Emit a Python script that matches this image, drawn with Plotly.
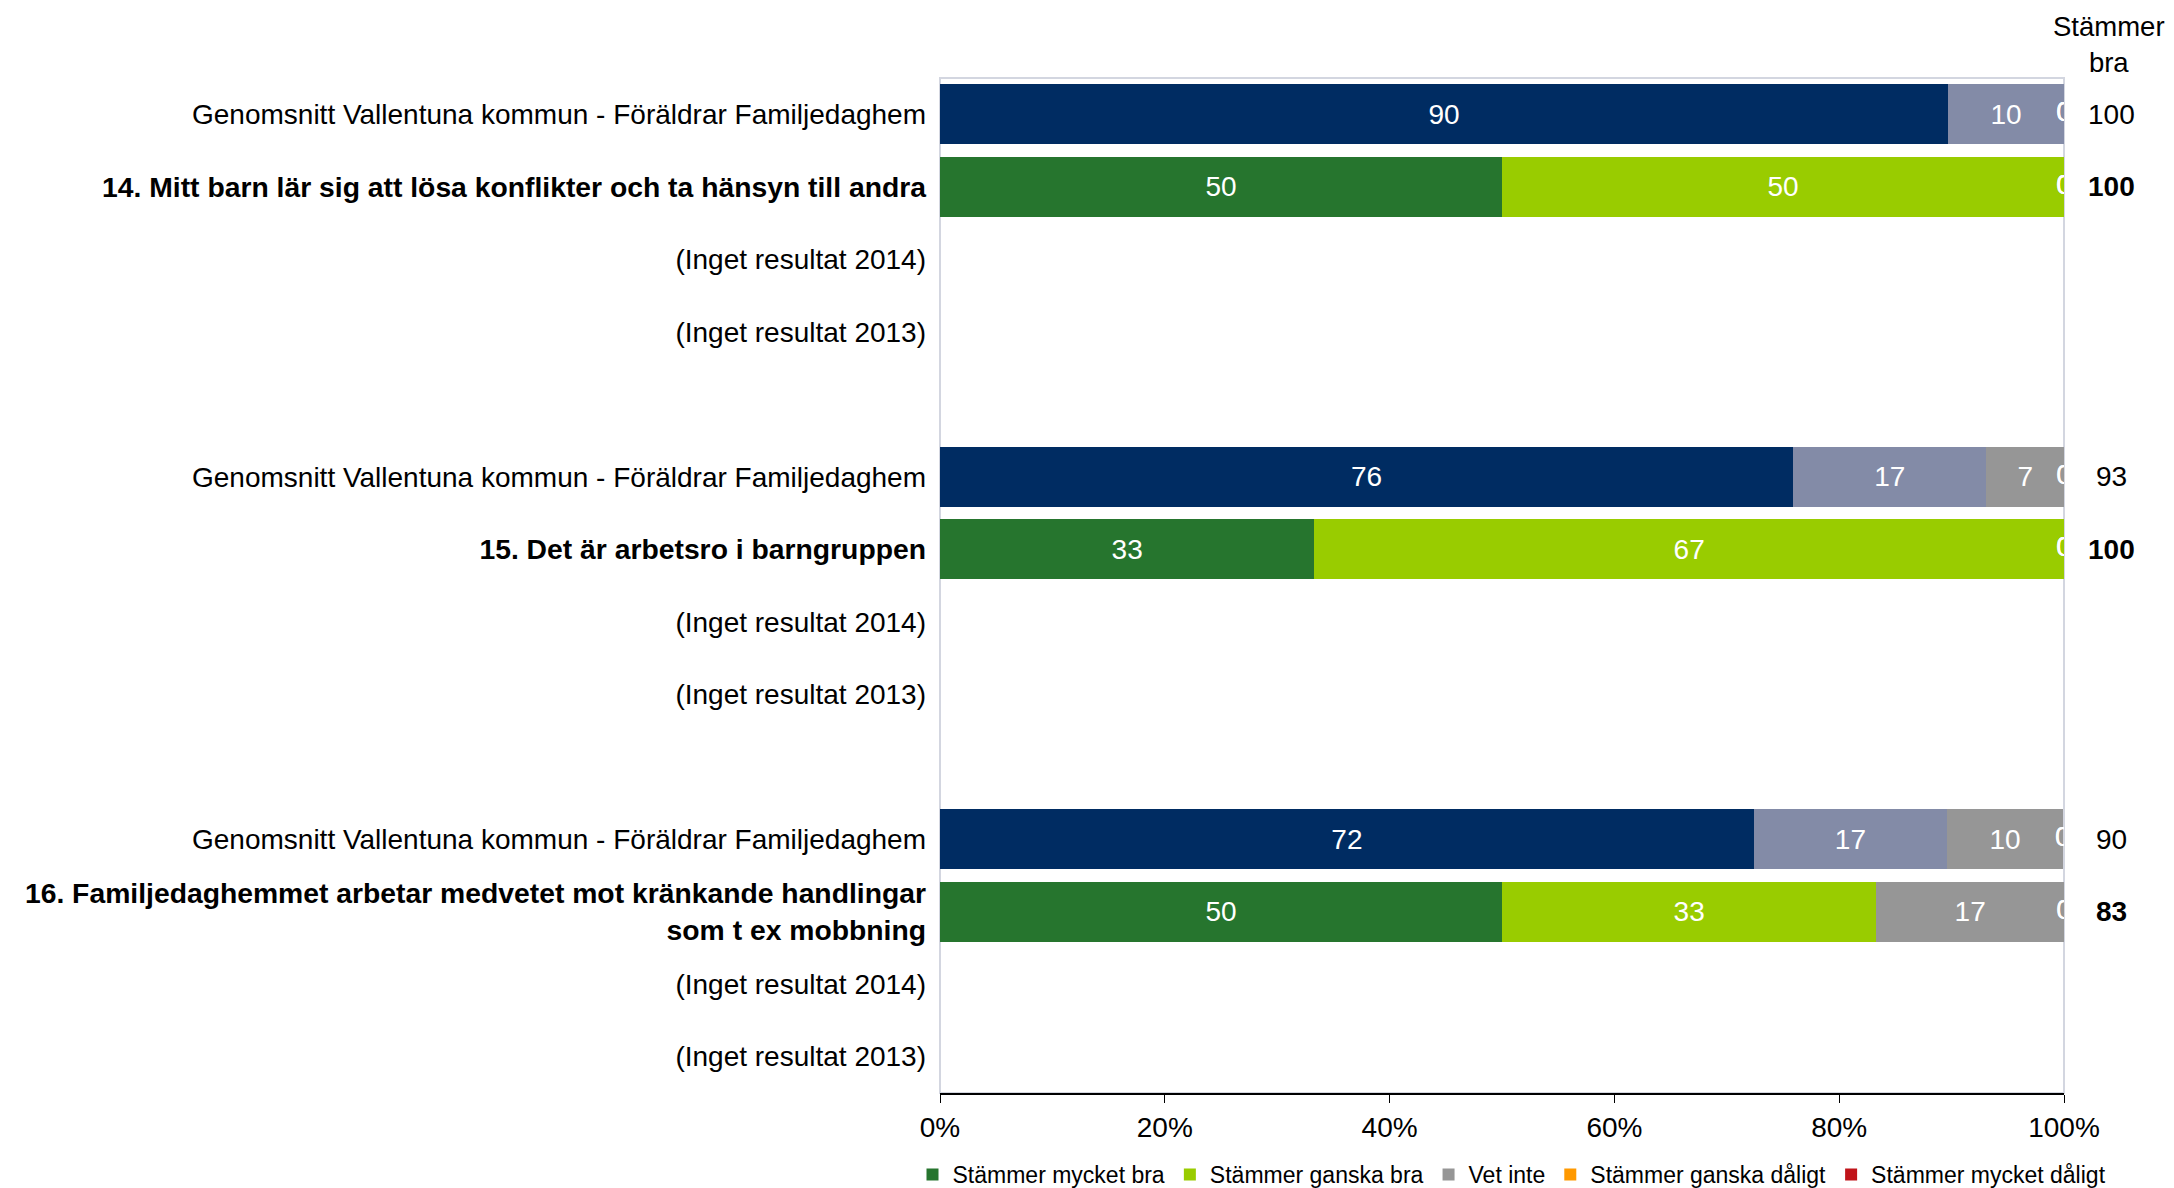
import plotly.graph_objects as go

# kategorier
series = ["Stämmer mycket bra", "Stämmer ganska bra", "Vet inte",
          "Stämmer ganska dåligt", "Stämmer mycket dåligt"]
questions = ["14. Mitt barn lär sig att lösa konflikter och ta hänsyn till andra",
             "15. Det är arbetsro i barngruppen",
             "16. Familjedaghemmet arbetar medvetet mot kränkande handlingar<br>som t ex mobbning"]
avg_label = "Genomsnitt Vallentuna kommun - Föräldrar Familjedaghem"
no_result = ["(Inget resultat 2014)", "(Inget resultat 2013)"]
x_ticks = [0, 20, 40, 60, 80, 100]

# genomsnitt kommun, en siffra per fråga
avg_mycket_bra = [89.7, 75.9, 72.4]
avg_ganska_bra = [10.3, 17.2, 17.2]
avg_vet_inte = [0, 6.9, 10.3]
avg_ganska_daligt = [0, 0, 0]
avg_mycket_daligt = [0, 0, 0]

# familjedaghemmet
q_mycket_bra = [50, 33.3, 50]
q_ganska_bra = [50, 66.7, 33.3]
q_vet_inte = [0, 0, 16.7]
q_ganska_daligt = [0, 0, 0]
q_mycket_daligt = [0, 0, 0]

# "Stämmer bra" kolumnen
avg_stammer_bra = [100, 93, 90]
q_stammer_bra = [100, 100, 83]

avg_colors = ["#002C62", "#838BA7", "#969696", "#FF9900", "#C0141A"]
q_colors = ["#26752E", "#99CC00", "#969696", "#FF9900", "#C0141A"]

avg_data = [avg_mycket_bra, avg_ganska_bra, avg_vet_inte, avg_ganska_daligt, avg_mycket_daligt]
q_data = [q_mycket_bra, q_ganska_bra, q_vet_inte, q_ganska_daligt, q_mycket_daligt]

FONT = "Liberation Sans, Arial, sans-serif"
FS = 28

# body-marginal 8px + bilden blir lite ihoptryckt på höjden, räkna om
W, H, OFF, KY = 2158, 1188, 8, 0.9867
def px(xw):
    return (xw - OFF) / W
def py(yw):
    return 1 - (yw / KY - OFF) / H

# radpositioner: 5 rader per grupp (snitt, fråga, 2014, 2013, tom)
avg_rows = [g * 5 for g in range(len(questions))]
q_rows = [g * 5 + 1 for g in range(len(questions))]
tickvals, ticktext = [], []
for g, q in enumerate(questions):
    tickvals += [g * 5, g * 5 + 1, g * 5 + 2, g * 5 + 3]
    ticktext += [avg_label, '<span style="font-size:28.3px"><b>' + q + "</b></span>"] + no_result
n_rows = len(questions) * 5 - 1

fig = go.Figure()

for data, rows, colors, show in [(avg_data, avg_rows, avg_colors, False),
                                 (q_data, q_rows, q_colors, True)]:
    for i, name in enumerate(series):
        vals = data[i]
        fig.add_trace(go.Bar(
            x=vals, y=rows, orientation="h", name=name,
            marker=dict(color=colors[i], line=dict(width=0)),
            text=[("%.0f" % v) if v > 0 else "" for v in vals],
            textposition="inside", insidetextanchor="middle",
            textangle=0, constraintext="none",
            insidetextfont=dict(color="white", size=FS, family=FONT),
            showlegend=show, legendgroup=name, hoverinfo="skip"))

# nollor som hamnar vid 100 % och klipps av diagramytan
zx, zy = [], []
for data, rows in [(avg_data, avg_rows), (q_data, q_rows)]:
    for r in range(len(rows)):
        cum = 0
        for i in range(len(series)):
            v = data[i][r]
            if v == 0:
                zx.append(cum)
                zy.append(rows[r])
            cum += v
fig.add_trace(go.Scatter(x=zx, y=zy, mode="text", text=["0"] * len(zx),
                         textposition="middle center", cliponaxis=True,
                         textfont=dict(color="white", size=FS, family=FONT),
                         showlegend=False, hoverinfo="skip"))

# ram runt diagramytan
fig.add_shape(type="rect", xref="x domain", yref="y domain", x0=0, x1=1, y0=0, y1=1,
              line=dict(color="#D3D6E0", width=2), layer="below")

RIGHT_X = px(2111)
for r, v in zip(avg_rows, avg_stammer_bra):
    fig.add_annotation(x=RIGHT_X, xref="paper", y=r, yref="y", text=str(v),
                       xanchor="center", showarrow=False,
                       font=dict(size=FS, color="black", family=FONT))
for r, v in zip(q_rows, q_stammer_bra):
    fig.add_annotation(x=RIGHT_X, xref="paper", y=r, yref="y", text="<b>%d</b>" % v,
                       xanchor="center", showarrow=False,
                       font=dict(size=FS, color="black", family=FONT))
fig.add_annotation(x=px(2109), xref="paper", y=py(44), yref="paper",
                   text="Stämmer<br>bra", showarrow=False, xanchor="center", yanchor="middle",
                   font=dict(size=27.5, color="black", family=FONT))

fig.update_layout(
    width=W, height=H,
    template="none",
    barmode="stack", bargap=0.17,
    paper_bgcolor="white", plot_bgcolor="white",
    margin=dict(l=0, r=0, t=0, b=0),
    font=dict(family=FONT, size=FS, color="black"),
    xaxis=dict(domain=[px(940), px(2064)], range=[0, 100],
               tickvals=x_ticks, ticktext=["%d%%" % t for t in x_ticks],
               showgrid=False, zeroline=False, showline=True,
               linecolor="black", linewidth=2, ticks="outside", ticklen=8,
               tickwidth=1, tickcolor="black", automargin=False,
               tickfont=dict(size=FS, family=FONT)),
    yaxis=dict(domain=[py(1093), py(78)],
               range=[n_rows - 0.5, -0.5],
               tickvals=tickvals, ticktext=ticktext,
               showgrid=False, zeroline=False, showline=False, ticks="",
               ticklabelstandoff=13, automargin=False,
               tickfont=dict(size=FS, family=FONT)),
    legend=dict(orientation="h", x=px(1512), xanchor="center", y=py(1175), yanchor="middle",
                traceorder="normal", font=dict(size=23, family=FONT),
                itemwidth=30, tracegroupgap=0, bgcolor="rgba(0,0,0,0)"),
)

fig.write_html("out.html")
